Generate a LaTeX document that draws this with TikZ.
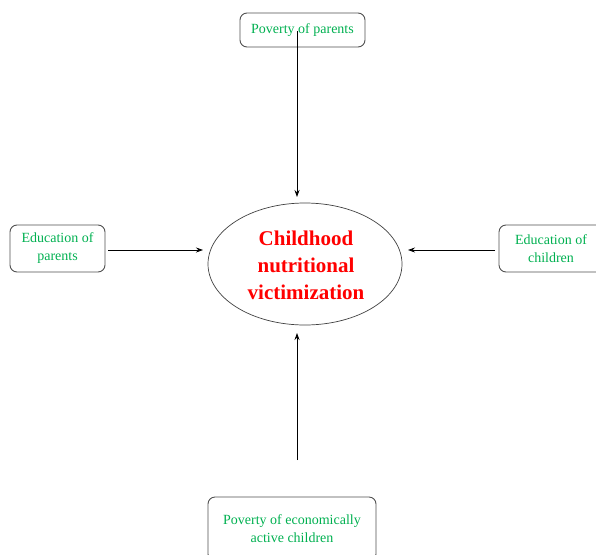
\documentclass[tikz,border=0pt]{standalone}
\usepackage{fontspec}
\setmainfont{Liberation Serif}
\usetikzlibrary{arrows.meta,shapes.geometric}
\definecolor{wgreen}{RGB}{0,176,80}
\definecolor{wred}{RGB}{255,0,0}
\definecolor{bordergray}{RGB}{80,80,80}
\begin{document}
\begin{tikzpicture}[x=1pt,y=-1pt,
  factor/.style={draw=bordergray,line width=0.9pt,rounded corners=7pt,align=center,
    text=wgreen,font=\fontsize{14}{18}\selectfont,inner sep=0pt},
  link/.style={line width=0.8pt,-{Stealth[length=7pt,width=5pt]}}]
\useasboundingbox (0,0) rectangle (596,554);
\node[factor,minimum width=125pt,minimum height=34pt] (top) at (302.5,30) {Poverty of parents};
\node[factor,minimum width=95pt,minimum height=47pt] (left) at (57.5,248.5) {Education of\\parents};
\node[factor,minimum width=104pt,minimum height=47pt] (right) at (551,248.5) {Education of\\children};
\node[factor,minimum width=168pt,minimum height=64pt] (bottom) at (292,529) {Poverty of economically\\active children};
\node[draw=black!75,line width=0.7pt,ellipse,minimum width=194pt,minimum height=122pt,inner sep=0pt] (c) at (305,264) {};
\node[text=wred,font=\bfseries\fontsize{21}{27}\selectfont,align=center] (ct) at (306,265) {Childhood\\nutritional\\victimization};
\coordinate (ts) at (297,31);
\coordinate (te) at (297,197);
\coordinate (ls) at (108,250);
\coordinate (le) at (203,250);
\coordinate (rs) at (495,250);
\coordinate (re) at (408,250);
\coordinate (bs) at (297,460);
\coordinate (be) at (297,333);
\draw[link] (ts) -- (te);
\draw[link] (ls) -- (le);
\draw[link] (rs) -- (re);
\draw[link] (bs) -- (be);
\end{tikzpicture}
\end{document}
